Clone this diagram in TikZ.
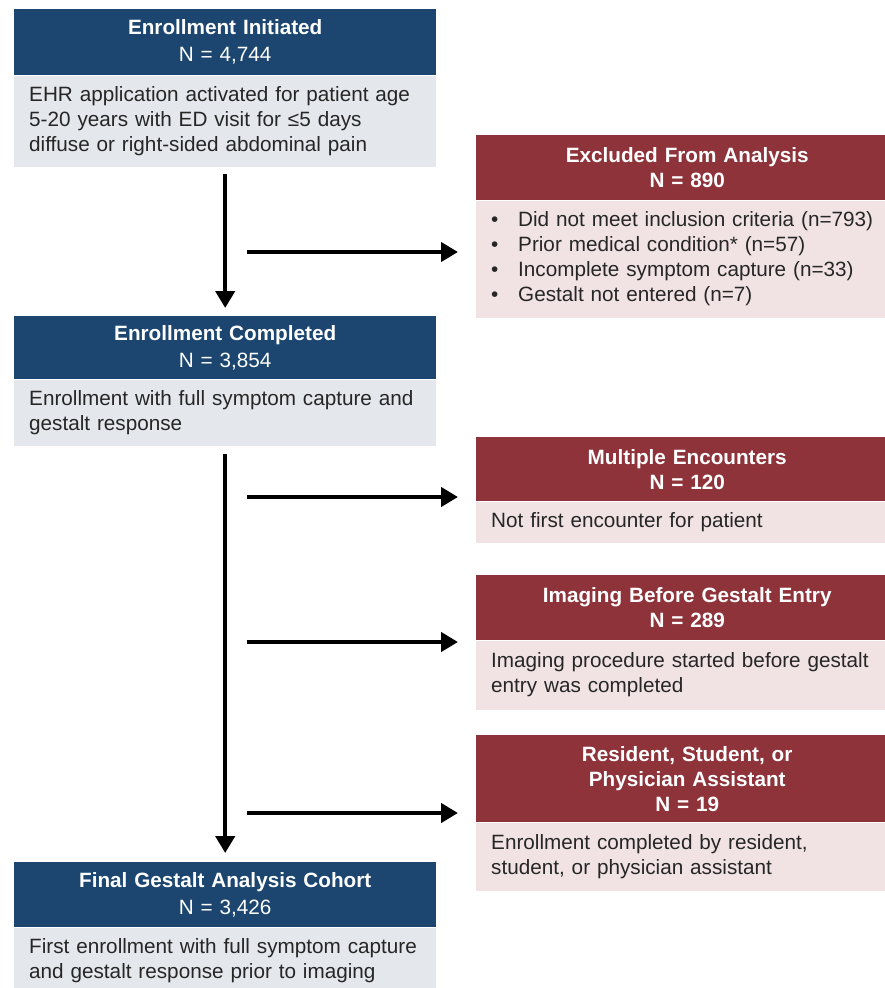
\documentclass[tikz,border=0pt]{standalone}
\usepackage{fontspec}
\setmainfont{Liberation Sans}
\usetikzlibrary{positioning,arrows.meta}
\definecolor{hdrblue}{HTML}{1C4670}
\definecolor{bodyblue}{HTML}{E4E7EC}
\definecolor{hdrred}{HTML}{8F333B}
\definecolor{bodyred}{HTML}{F1E3E4}
\newcommand{\bul}{\makebox[27pt][l]{•}}
\tikzset{>={Triangle[length=17pt,width=19pt]},
  box/.style={text width=392pt, inner xsep=15pt, inner ysep=0pt, font=\fontsize{20.7}{25}\selectfont},
  bluehead/.style={box, fill=hdrblue, text=white, align=center, font=\fontsize{20.7}{27}\selectfont},
  redhead/.style={box, fill=hdrred, text=white, align=center, font=\fontsize{20.7}{25}\selectfont\bfseries},
  bluebody/.style={box, fill=bodyblue, text=black!85, align=left},
  redbody/.style={box, fill=bodyred, text=black!85, align=left},
  flow/.style={->, line width=4.5pt}
}

\begin{document}
\begin{tikzpicture}[x=1pt,y=-1pt]
  \useasboundingbox (0,0) rectangle (885,988);

  \node[bluehead, anchor=north west, minimum height=66pt] (hdr_init) at (14,9) {\textbf{Enrollment Initiated}\\N = 4,744};
  \node[bluebody, below=0pt of hdr_init, minimum height=91pt] (body_init) {EHR application activated for patient age\\5-20 years with ED visit for ≤5 days\\diffuse or right-sided abdominal pain};

  \node[bluehead, anchor=north west, minimum height=63pt] (hdr_done) at (14,316) {\textbf{Enrollment Completed}\\N = 3,854};
  \node[bluebody, below=0pt of hdr_done, minimum height=66pt] (body_done) {Enrollment with full symptom capture and\\gestalt response};

  \node[bluehead, anchor=north west, minimum height=65pt] (hdr_final) at (14,862) {\textbf{Final Gestalt Analysis Cohort}\\N = 3,426};
  \node[bluebody, below=0pt of hdr_final, minimum height=66pt] (body_final) {First enrollment with full symptom capture\\and gestalt response prior to imaging};

  \node[redhead, anchor=north west, minimum height=65pt] (hdr_excl) at (476,135) {Excluded From Analysis\\N = 890};
  \node[redbody, below=0pt of hdr_excl, minimum height=117pt] (body_excl) {\bul Did not meet inclusion criteria (n=793)\\\bul Prior medical condition* (n=57)\\\bul Incomplete symptom capture (n=33)\\\bul Gestalt not entered (n=7)};

  \node[redhead, anchor=north west, minimum height=64pt] (hdr_mult) at (476,437) {Multiple Encounters\\N = 120};
  \node[redbody, below=0pt of hdr_mult, minimum height=41pt] (body_mult) {Not first encounter for patient};

  \node[redhead, anchor=north west, minimum height=65pt] (hdr_img) at (476,575) {Imaging Before Gestalt Entry\\N = 289};
  \node[redbody, below=0pt of hdr_img, minimum height=69pt] (body_img) {Imaging procedure started before gestalt\\entry was completed};

  \node[redhead, anchor=north west, minimum height=87pt] (hdr_res) at (476,735) {Resident, Student, or\\Physician Assistant\\N = 19};
  \node[redbody, below=0pt of hdr_res, minimum height=68pt] (body_res) {Enrollment completed by resident,\\student, or physician assistant};

  \node[coordinate] (br_excl) at (247,252) {};
  \node[coordinate] (br_mult) at (247,497) {};
  \node[coordinate] (br_img) at (247,642) {};
  \node[coordinate] (br_res) at (247,813) {};

  \draw[flow, shorten <=7pt, shorten >=8pt] (body_init) -- (hdr_done);
  \draw[flow, shorten <=8pt, shorten >=9pt] (body_done) -- (hdr_final);

  \draw[flow, shorten >=18pt] (br_excl) -- (br_excl -| body_excl.west);
  \draw[flow, shorten >=18pt] (br_mult) -- (br_mult -| body_mult.west);
  \draw[flow, shorten >=18pt] (br_img) -- (br_img -| body_img.west);
  \draw[flow, shorten >=18pt] (br_res) -- (br_res -| body_res.west);

\end{tikzpicture}
\end{document}
